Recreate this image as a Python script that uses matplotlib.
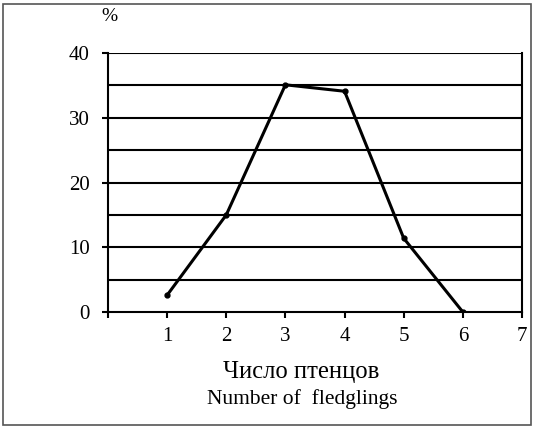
import matplotlib
matplotlib.use('Agg')
import matplotlib.pyplot as plt
from matplotlib.patches import Rectangle

# fledglings per brood vs share of broods, %
n_fledglings = [1, 2, 3, 4, 5, 6]
percent = [2.6, 15.0, 35.1, 34.1, 11.4, 0.0]
yticks = [0, 10, 20, 30, 40]
xticks = [1, 2, 3, 4, 5, 6, 7]

plt.rcParams['font.family'] = ['Liberation Serif', 'DejaVu Serif']

fig = plt.figure(figsize=(5.34, 4.28), dpi=100)
ax = fig.add_axes([0.2022, 0.271, 0.7753, 0.605])

# horizontal grid every 5 %
for g in range(5, 45, 5):
    ax.axhline(g, color='black', lw=1.5, zorder=1)

ax.plot(n_fledglings, percent, color='black', lw=2.2, marker='o', ms=3.5, zorder=3)

ax.set_xlim(0, 7)
ax.set_ylim(0, 40)
ax.set_xticks(range(0, 8))
ax.set_xticklabels([''] + [str(x) for x in xticks])
ax.set_yticks(yticks)
ax.set_yticklabels([str(y) for y in yticks])
for s in ['left', 'bottom', 'right']:
    ax.spines[s].set_linewidth(1.5)
ax.spines['top'].set_visible(False)
ax.tick_params(axis='both', labelsize=15, width=1.5, length=4)
ax.tick_params(axis='x', pad=7)
ax.tick_params(axis='y', pad=9)

fig.text(0.205, 0.962, '%', fontsize=14, ha='center', va='center')
fig.text(0.564, 0.131, 'Число птенцов', fontsize=17.7, ha='center', va='center')
fig.text(0.566, 0.068, 'Number of  fledglings', fontsize=15.5, ha='center', va='center')

fig.patches.append(Rectangle((0.006, 0.006), 0.988, 0.984, transform=fig.transFigure,
                             fill=False, edgecolor='#555555', lw=1.2))

plt.savefig('out.png', dpi=100)
